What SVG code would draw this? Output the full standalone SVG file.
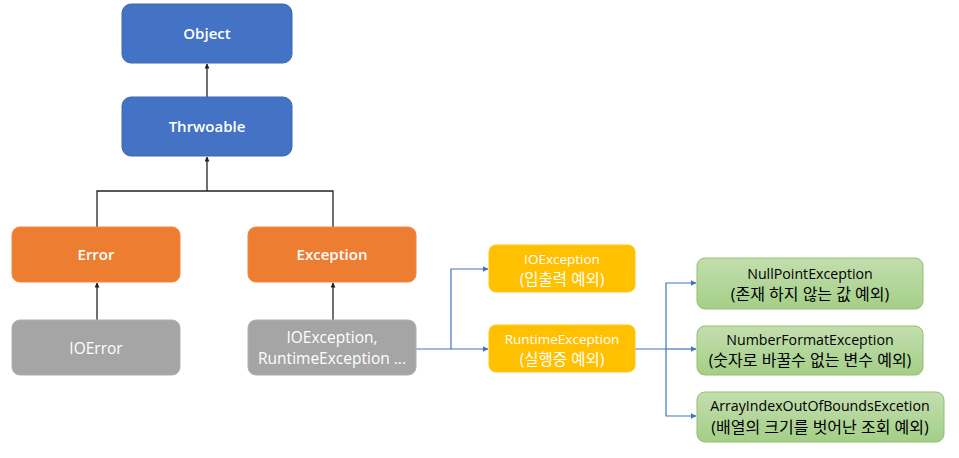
<svg xmlns="http://www.w3.org/2000/svg" width="959" height="458" viewBox="0 0 959 458">
<style>
  text { font-family: "Open Sans", "Noto Sans CJK KR", "Liberation Sans", sans-serif; text-anchor: middle; }
  .big { font-size: 15px; font-weight: 600; fill: #ffffff; }
  .reg { font-size: 15.5px; font-weight: 400; fill: #ffffff; }
  .sm { font-size: 13.5px; fill: #ffffff; }
  .smk { font-size: 15.5px; fill: #ffffff; }
  .gr { font-size: 14.2px; fill: #000000; }
  .grk { font-size: 16px; fill: #000000; }
  .blue { fill: #4472c4; stroke: #3f68b3; stroke-width: 1; }
  .orange { fill: #ed7d31; stroke: #ee8844; stroke-width: 1; }
  .gray { fill: #a5a5a5; stroke: #b0b0b0; stroke-width: 1; }
  .yellow { fill: #ffc000; stroke: #ffc81a; stroke-width: 1; }
  .green { fill: url(#gg); stroke: #8fc171; stroke-width: 1; }
  .bk { fill: none; stroke: #222222; stroke-width: 1.3; }
  .bl { fill: none; stroke: #4472c4; stroke-width: 1.2; }
</style>
<defs>
  <linearGradient id="gg" x1="0" y1="0" x2="0" y2="1">
    <stop offset="0" stop-color="#c3deae"/>
    <stop offset="1" stop-color="#a4cf87"/>
  </linearGradient>
  <marker id="ab" viewBox="0 0 10 10" refX="9" refY="5" markerWidth="5" markerHeight="5" orient="auto" markerUnits="userSpaceOnUse">
    <path d="M0,0 L10,5 L0,10 z" fill="#222222"/>
  </marker>
  <marker id="au" viewBox="0 0 10 10" refX="9" refY="5" markerWidth="6" markerHeight="6" orient="auto" markerUnits="userSpaceOnUse">
    <path d="M0,0 L10,5 L0,10 z" fill="#4472c4"/>
  </marker>
</defs>
<rect width="959" height="458" fill="#ffffff"/>

<g id="connectors">
  <path class="bk" d="M207,97 V64" marker-end="url(#ab)"/>
  <path class="bk" d="M207,191 V157" marker-end="url(#ab)"/>
  <path class="bk" d="M97,227 V191 H333 V227"/>
  <path class="bk" d="M97,320 V283" marker-end="url(#ab)"/>
  <path class="bk" d="M333,320 V283" marker-end="url(#ab)"/>
  <path class="bl" d="M416,349 H451 V269 H488" marker-end="url(#au)"/>
  <path class="bl" d="M451,349 H488" marker-end="url(#au)"/>
  <path class="bl" d="M635,349 H666 V283 H696" marker-end="url(#au)"/>
  <path class="bl" d="M666,349 H696" marker-end="url(#au)"/>
  <path class="bl" d="M666,349 V416 H696" marker-end="url(#au)"/>
</g>

<g id="object">
  <rect class="blue" x="122" y="4" width="170" height="59" rx="9"/>
  <text class="big" x="207" y="39">Object</text>
</g>
<g id="throwable">
  <rect class="blue" x="122" y="97" width="170" height="59" rx="9"/>
  <text class="big" x="207" y="132">Thrwoable</text>
</g>
<g id="error">
  <rect class="orange" x="12" y="227" width="168" height="55" rx="8"/>
  <text class="big" x="96" y="260">Error</text>
</g>
<g id="exception">
  <rect class="orange" x="248" y="227" width="168" height="55" rx="8"/>
  <text class="big" x="332" y="260">Exception</text>
</g>
<g id="ioerror">
  <rect class="gray" x="12" y="320" width="168" height="55" rx="8"/>
  <text class="reg" x="96" y="354">IOError</text>
</g>
<g id="exceptions">
  <rect class="gray" x="248" y="320" width="168" height="55" rx="8"/>
  <text class="reg" x="332" y="343">IOException,</text>
  <text class="reg" x="332" y="364">RuntimeException ...</text>
</g>
<g id="ioexception">
  <rect class="yellow" x="489" y="245" width="146" height="47" rx="7"/>
  <text class="sm" x="562" y="264">IOException</text>
  <text class="smk" x="562" y="285">(입출력 예외)</text>
</g>
<g id="runtimeexception">
  <rect class="yellow" x="489" y="325" width="146" height="47" rx="7"/>
  <text class="sm" x="562" y="344">RuntimeException</text>
  <text class="smk" x="562" y="365">(실행중 예외)</text>
</g>
<g id="nullpoint">
  <rect class="green" x="697" y="258" width="226" height="51" rx="8"/>
  <text class="gr" x="810" y="279">NullPointException</text>
  <text class="grk" x="810" y="300">(존재 하지 않는 값 예외)</text>
</g>
<g id="numberformat">
  <rect class="green" x="697" y="326" width="226" height="49" rx="8"/>
  <text class="gr" x="810" y="345">NumberFormatException</text>
  <text class="grk" x="810" y="366">(숫자로 바꿀수 없는 변수 예외)</text>
</g>
<g id="arrayindex">
  <rect class="green" x="697" y="392" width="247" height="50" rx="8"/>
  <text class="gr" x="820" y="411">ArrayIndexOutOfBoundsExcetion</text>
  <text class="grk" x="820" y="433">(배열의 크기를 벗어난 조회 예외)</text>
</g>
</svg>
